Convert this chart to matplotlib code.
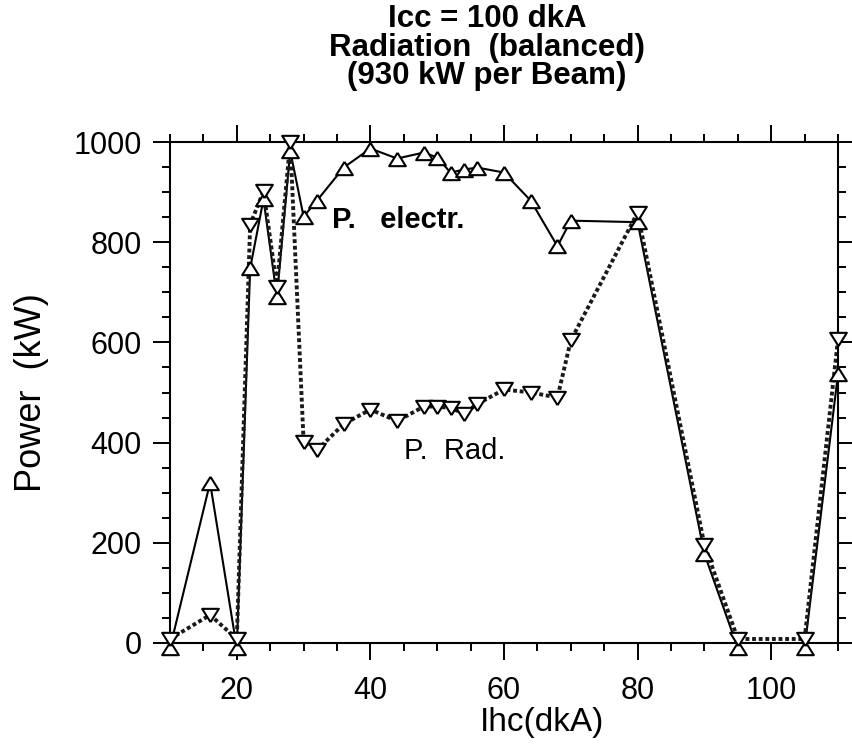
import numpy as np
import matplotlib
matplotlib.use("Agg")
import matplotlib.pyplot as plt
from matplotlib.ticker import MultipleLocator

plt.rcParams['font.family'] = ['Liberation Sans', 'DejaVu Sans']

# Ihc (dkA) - same scan points for both curves
ihc = [10, 16, 20, 22, 24, 26, 28, 30, 32, 36, 40, 44, 48, 50, 52, 54, 56,
       60, 64, 68, 70, 80, 90, 95, 105, 110]
# P. electr. (kW), up triangles, solid line
p_electr = [-10, 320, -10, 748, 886, 691, 982, 851, 883, 949, 987, 967, 979,
            969, 939, 945, 949, 939, 883, 792, 843, 840, 178, -10, -10, 537]
# P. Rad. (kW), down triangles, dotted line
p_rad = [8, 56, 8, 835, 902, 711, 1000, 402, 385, 437, 466, 443, 472, 472,
         469, 458, 477, 506, 500, 490, 604, 859, 196, 8, 8, 606]

# open triangles, a bit wider than tall
tri_up = [(0, 0.8), (-1, -0.8), (1, -0.8), (0, 0.8)]
tri_dn = [(0, -0.8), (-1, 0.8), (1, 0.8), (0, -0.8)]

fig = plt.figure(figsize=(8.53, 7.45), dpi=100)
ax = fig.add_axes([170/853, 102/745, 668/853, 501/745])

ax.plot(ihc, p_electr, color='black', lw=1.5, zorder=2)
ax.plot(ihc, p_rad, color='#1a1a1a', lw=2.8, ls=(0, (1, 0.7)), zorder=2)
ax.plot(ihc, p_electr, ls='none', marker=tri_up, ms=12, mfc='white',
        mec='black', mew=1.5, clip_on=False, zorder=3)
ax.plot(ihc, p_rad, ls='none', marker=tri_dn, ms=12, mfc='white',
        mec='black', mew=1.5, clip_on=False, zorder=3)

ax.set_xlim(10, 110)
ax.set_ylim(0, 1000)
ax.xaxis.set_major_locator(MultipleLocator(20))
ax.xaxis.set_minor_locator(MultipleLocator(5))
ax.yaxis.set_major_locator(MultipleLocator(200))
ax.yaxis.set_minor_locator(MultipleLocator(50))

ax.tick_params(which='both', direction='out', top=True, right=True,
               width=1.4, labelsize=22)
ax.tick_params(which='major', length=12.5)
ax.tick_params(which='minor', length=6)
ax.tick_params(axis='x', pad=11)
ax.tick_params(axis='y', pad=8)
for sp in ax.spines.values():
    sp.set_linewidth(1.5)

ax.set_xlabel('Ihc(dkA)', fontsize=24, va='center')
ax.xaxis.set_label_coords(0.557, -0.158)
ax.set_ylabel('Power  (kW)', fontsize=26, va='center', ha='center')
ax.yaxis.set_label_coords(-0.208, 0.5)

ax.text(34.3, 844, 'P.   electr.', fontsize=21, fontweight='bold',
        ha='left', va='center')
ax.text(45.1, 383, 'P.  Rad.', fontsize=21, ha='left', va='center')

fig.text(0.571, 0.995, 'Icc = 100 dkA\nRadiation  (balanced)\n(930 kW per Beam)',
         ha='center', va='top', fontsize=22.5, fontweight='bold', linespacing=0.95)

fig.savefig('out.png', dpi=100)
